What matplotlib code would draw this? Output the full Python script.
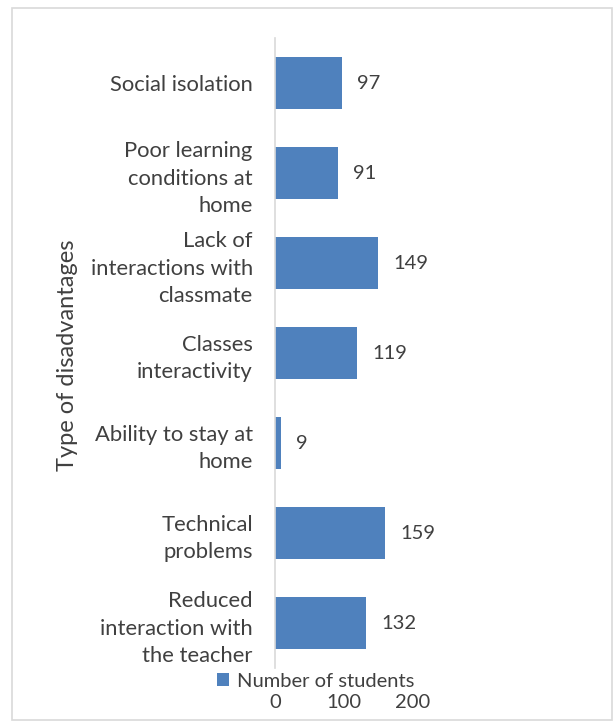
import matplotlib.pyplot as plt
from matplotlib.patches import Rectangle

categories = [
    "Social isolation",
    "Poor learning\nconditions at\nhome",
    "Lack of\ninteractions with\nclassmate",
    "Classes\ninteractivity",
    "Ability to stay at\nhome",
    "Technical\nproblems",
    "Reduced\ninteraction with\nthe teacher",
]
students = [97, 91, 149, 119, 9, 159, 132]
x_ticks = [0, 100, 200]

bar_color = "#4F81BD"
text_color = "#404040"
plt.rcParams["font.family"] = ["Lato", "DejaVu Sans"]

fig = plt.figure(figsize=(6.16, 7.24), dpi=100)
ax = fig.add_axes([0.4464, 0.0773, 0.2240, 0.8702])

y = list(range(len(categories)))
bars = ax.barh(y, students, height=0.57, color=bar_color, label="Number of students")
ax.set_ylim(len(categories) - 0.5, -0.5)
ax.set_xlim(0, 200)

for yi, v in zip(y, students):
    ax.annotate(str(v), (v, yi), xytext=(11, 0), textcoords="offset points",
                va="center", ha="left", fontsize=14.5, color=text_color)

ax.set_yticks(y)
ax.set_yticklabels(categories, fontsize=15.8, color=text_color, linespacing=1.45)
ax.set_xticks(x_ticks)
ax.set_xticklabels([str(t) for t in x_ticks], fontsize=14.5, color=text_color)
ax.tick_params(axis="both", length=0)
ax.tick_params(axis="y", pad=16)
ax.tick_params(axis="x", pad=19)

for side in ["top", "right", "bottom"]:
    ax.spines[side].set_visible(False)
ax.spines["left"].set_color("#D9D9D9")
ax.spines["left"].set_linewidth(1.2)

fig.text(0.109, 0.51, "Type of disadvantages", rotation=90, ha="center", va="center",
         fontsize=17, color=text_color)

fig.legend(handles=[bars], loc="center", bbox_to_anchor=(0.512, 0.059), frameon=False,
           fontsize=14.5, labelcolor=text_color, handlelength=0.6, handleheight=0.6,
           handletextpad=0.4, borderpad=0)

# chart frame
fig.patches.append(Rectangle((12 / 616, 1 - 720 / 724), 600 / 616, 712 / 724,
                             transform=fig.transFigure, fill=False,
                             edgecolor="#D9D9D9", linewidth=1.2))

fig.savefig("out.png", dpi=100)
